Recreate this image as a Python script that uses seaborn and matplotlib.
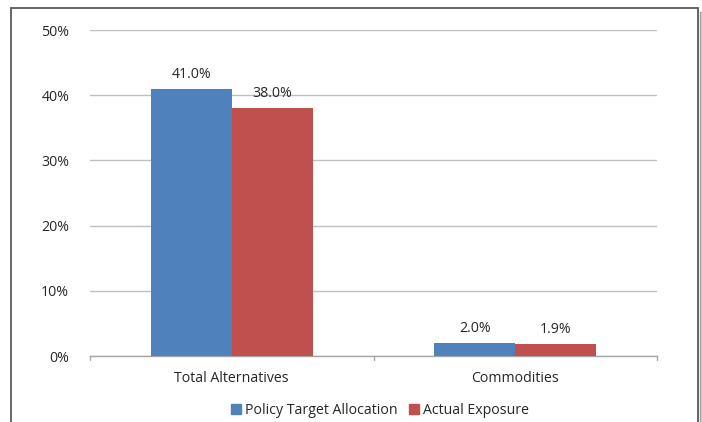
import matplotlib
matplotlib.use("Agg")
import matplotlib.pyplot as plt
from matplotlib.patches import Rectangle
from matplotlib.lines import Line2D
import seaborn as sns
import pandas as pd

categories = ["Total Alternatives", "Commodities"]
series = ["Policy Target Allocation", "Actual Exposure"]
policy_target = [41.0, 2.0]
actual_exposure = [38.0, 1.9]
y_ticks = [0, 10, 20, 30, 40, 50]
colors = ["#4F81BD", "#C0504D"]

df = pd.DataFrame({
    "category": categories * 2,
    "series": [series[0]] * 2 + [series[1]] * 2,
    "value": policy_target + actual_exposure,
})

sns.set_theme(style="white")
plt.rcParams["font.family"] = ["Open Sans", "DejaVu Sans"]
FS = 10.2
TXT = "#262626"

fig = plt.figure(figsize=(7.02, 4.22), dpi=100)
ax = fig.add_axes([90 / 702, 1 - 356 / 422, 567 / 702, 326 / 422])

sns.barplot(data=df, x="category", y="value", hue="series", order=categories,
            hue_order=series, palette=colors, width=0.571, gap=0,
            saturation=1, ax=ax, zorder=3, linewidth=0)

for cont in ax.containers:
    ax.bar_label(cont, fmt="%.1f%%", padding=5, fontsize=FS, color=TXT)

ax.set_ylim(0, 50)
ax.set_yticks(y_ticks)
ax.set_yticklabels([f"{t}%" for t in y_ticks])
ax.set_xlim(-0.5, 1.5)
ax.set_xlabel("")
ax.set_ylabel("")
ax.yaxis.grid(True, color="#BFBFBF", linewidth=1)
ax.set_axisbelow(True)
for side in ["top", "right", "left"]:
    ax.spines[side].set_visible(False)
ax.spines["bottom"].set_color("#A6A6A6")
ax.spines["bottom"].set_linewidth(1)
ax.tick_params(axis="y", length=0, pad=15, labelsize=FS, labelcolor=TXT)
ax.tick_params(axis="x", length=0, pad=11, labelsize=FS, labelcolor=TXT)

# category separator ticks on the x axis
for xt in [-0.5, 0.5, 1.5]:
    ax.plot([xt, xt], [0, -0.012], transform=ax.get_xaxis_transform(),
            color="#A6A6A6", linewidth=1, clip_on=False)

handles = [Rectangle((0, 0), 1, 1, color=c) for c in colors]
ax.legend(handles, series, loc="center", bbox_to_anchor=(380 / 702, 1 - 410 / 422),
          bbox_transform=fig.transFigure, ncol=2, frameon=False, fontsize=FS,
          handlelength=0.7, handleheight=0.7, handletextpad=0.3, columnspacing=0.8,
          labelcolor=TXT)

# outer chart frame with a soft shadow on the right
fig.add_artist(Rectangle((11 / 702, -0.05), 687 / 702, 1.05 - 8 / 422,
                         transform=fig.transFigure, fill=False,
                         edgecolor="#595959", linewidth=1.3))
for i, g in enumerate(["#9a9a9a", "#c4c4c4", "#e2e2e2"]):
    x = (699.5 + i) / 702
    fig.add_artist(Line2D([x, x], [0, 1 - 12 / 422], transform=fig.transFigure,
                          color=g, linewidth=1))

fig.savefig("out.png", dpi=100)
